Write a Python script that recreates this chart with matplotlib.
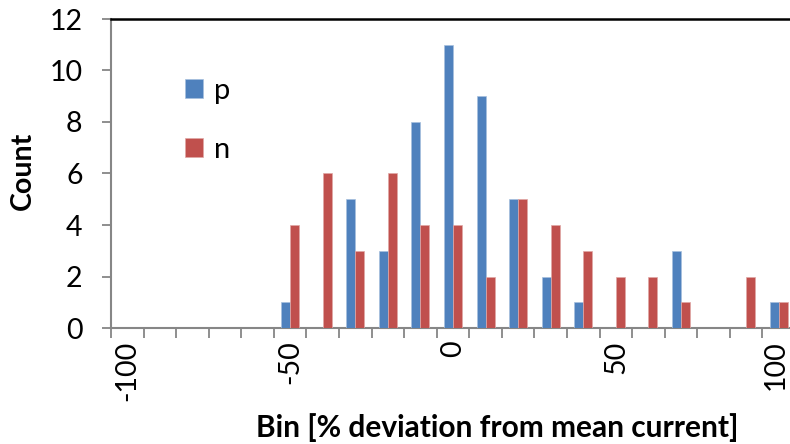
import numpy as np
import matplotlib
matplotlib.use("Agg")
import matplotlib.pyplot as plt
from matplotlib.transforms import ScaledTranslation

plt.rcParams['font.family'] = ['Lato', 'DejaVu Sans']

# Histogram bins (% deviation from mean current) and counts per series
bins = list(range(-100, 101, 10))
p_counts = [0, 0, 0, 0, 0, 1, 0, 5, 3, 8, 11, 9, 5, 2, 1, 0, 0, 3, 0, 0, 1]
n_counts = [0, 0, 0, 0, 0, 4, 6, 3, 6, 4, 4, 2, 5, 4, 3, 2, 2, 1, 0, 2, 1]
tick_labels = ['-100', '-50', '0', '50', '100']
series_names = ['p', 'n']

BLUE = '#4F81BD'
RED = '#C0504D'
GRAY = '#868686'

W, H = 790, 444
fig = plt.figure(figsize=(W / 100, H / 100), dpi=100)
ax = fig.add_axes([111 / W, (H - 328) / H, 684 / W, 309 / H])

x = np.arange(len(bins))
bw = 0.276
ax.bar(x - bw / 2, p_counts, width=bw, color=BLUE, edgecolor='#A7C0DE',
       linewidth=0.5, label=series_names[0], zorder=3)
ax.bar(x + bw / 2, n_counts, width=bw, color=RED, edgecolor='#E0A8A6',
       linewidth=0.5, label=series_names[1], zorder=3)

ax.set_xlim(-0.5, len(bins) - 0.5)
ax.set_ylim(0, 12)
ax.set_yticks(np.arange(0, 13, 2))

# Category axis: tick marks between bins, labels every fifth bin
label_pos = [bins.index(int(t)) for t in tick_labels]
ax.set_xticks(label_pos)
ax.set_xticklabels(tick_labels, rotation=90, va='top', ha='center')
ax.set_xticks(np.arange(-0.5, len(bins)), minor=True)
ax.tick_params(axis='x', which='major', length=0, pad=9, labelsize=20.5)
ax.tick_params(axis='x', which='minor', length=7, width=1.3, color=GRAY,
               direction='out')
ax.tick_params(axis='y', length=6.5, width=1.3, color=GRAY, pad=14,
               labelsize=20.5)

# keep the last category label inside the canvas edge
last = ax.get_xticklabels()[-1]
last.set_transform(last.get_transform() +
                   ScaledTranslation(-3 / 100, 0, fig.dpi_scale_trans))

for side in ('left', 'bottom'):
    ax.spines[side].set_color(GRAY)
    ax.spines[side].set_linewidth(1.5)
ax.spines['top'].set_color('black')
ax.spines['top'].set_linewidth(1.8)
ax.spines['right'].set_visible(False)

fig.text(23 / W, 1 - 171 / H, 'Count', rotation=90, ha='center',
         va='center', fontsize=20.5, fontweight='bold')
fig.text(497 / W, 1 - 428 / H, 'Bin [% deviation from mean current]',
         ha='center', va='center', fontsize=21.5, fontweight='bold')

leg = ax.legend(loc='upper left', bbox_to_anchor=(170 / W, 1 - 63 / H),
                bbox_transform=fig.transFigure, frameon=False, fontsize=21,
                handlelength=0.62, handleheight=0.62, handletextpad=0.4,
                labelspacing=1.15, borderpad=0)

fig.savefig('out.png', dpi=100)
